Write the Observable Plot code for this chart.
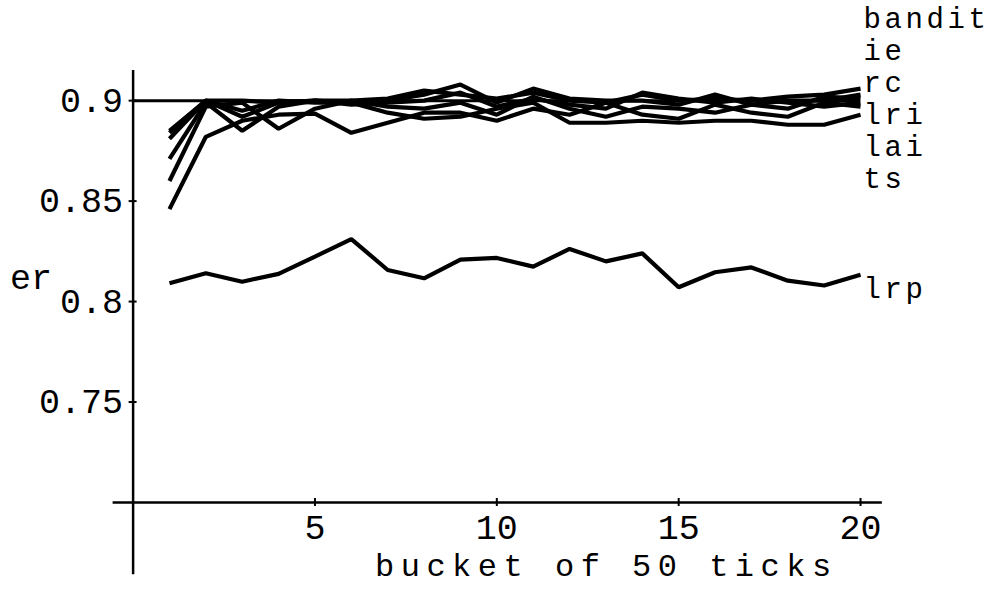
<!DOCTYPE html>
<html>
<head>
<meta charset="utf-8">
<script src="https://cdn.jsdelivr.net/npm/d3@7"></script>
<script src="https://cdn.jsdelivr.net/npm/@observablehq/plot@0.6"></script>
<style>
  html, body { margin: 0; padding: 0; background: #fff; }
</style>
</head>
<body>
<div id="chart"></div>
<script>
// Error rate per bucket of 50 ticks, one series per learning method
const buckets = [1, 2, 3, 4, 5, 6, 7, 8, 9, 10, 11, 12, 13, 14, 15, 16, 17, 18, 19, 20];

const bandit = [0.884, 0.900, 0.900, 0.899, 0.900, 0.900, 0.901, 0.905, 0.903, 0.901, 0.904, 0.900, 0.899, 0.903, 0.900, 0.901, 0.900, 0.902, 0.903, 0.906];
const ie     = [0.881, 0.900, 0.895, 0.900, 0.899, 0.899, 0.900, 0.903, 0.908, 0.899, 0.906, 0.901, 0.900, 0.900, 0.898, 0.903, 0.898, 0.900, 0.900, 0.903];
const rc     = [0.871, 0.899, 0.885, 0.897, 0.900, 0.898, 0.899, 0.900, 0.904, 0.897, 0.901, 0.898, 0.896, 0.904, 0.901, 0.899, 0.901, 0.899, 0.897, 0.899];
const lri    = [0.860, 0.897, 0.899, 0.886, 0.896, 0.900, 0.897, 0.896, 0.899, 0.893, 0.902, 0.896, 0.892, 0.897, 0.896, 0.894, 0.898, 0.896, 0.902, 0.901];
const lai    = [0.846, 0.882, 0.890, 0.893, 0.8935, 0.884, 0.889, 0.894, 0.894, 0.890, 0.896, 0.893, 0.899, 0.893, 0.891, 0.898, 0.894, 0.892, 0.899, 0.897];
const ts     = [0.885, 0.900, 0.892, 0.899, 0.900, 0.899, 0.894, 0.891, 0.892, 0.896, 0.899, 0.889, 0.889, 0.890, 0.889, 0.890, 0.890, 0.888, 0.888, 0.893];
const lrp    = [0.8091, 0.8141, 0.8099, 0.8138, 0.8224, 0.8311, 0.8157, 0.8116, 0.8209, 0.8217, 0.8174, 0.8262, 0.8200, 0.8240, 0.8071, 0.8146, 0.8170, 0.8104, 0.8080, 0.8133];

// Methods clustered near 0.9, listed top to bottom in the key
const upperNames = ["bandit", "ie", "rc", "lri", "lai", "ts"];
const upperSeries = [bandit, ie, rc, lri, lai, ts];

const referenceLevel = 0.9;
const xTicks = [5, 10, 15, 20];
const xTickLabels = ["5", "10", "15", "20"];
const yTicks = [0.75, 0.8, 0.85, 0.9];
const yTickLabels = ["0.75", "0.8", "0.85", "0.9"];
const xLabel = "bucket of 50 ticks";
const yLabel = "er";

// long-format table for the line mark
const rows = [];
upperNames.forEach((name, s) => {
  upperSeries[s].forEach((v, i) => rows.push({method: name, bucket: buckets[i], er: v}));
});
lrp.forEach((v, i) => rows.push({method: "lrp", bucket: buckets[i], er: v}));

const xLo = -0.55, xHi = 20.45;   // visible span of the horizontal axis
const yLo = 0.7, yHi = 0.915;     // frame: horizontal axis sits at 0.7
const yAxisBottom = 0.664;        // vertical axis runs past the crossing

const chart = Plot.plot({
  width: 991,
  height: 594,
  marginLeft: 112.6,
  marginRight: 114.6,
  marginTop: 70,
  marginBottom: 92,
  x: {domain: [xLo, xHi], axis: null},
  y: {domain: [yLo, yHi], axis: null},
  style: {
    background: "#fff",
    color: "#000",
    fontFamily: "'Liberation Mono', 'DejaVu Sans Mono', monospace",
    fontSize: "35px"
  },
  marks: [
    // axes crossing at (0, 0.7)
    Plot.ruleY([yLo], {x1: xLo, x2: 20.6, stroke: "#000", strokeWidth: 2.5}),
    Plot.ruleX([0], {y1: yAxisBottom, y2: yHi, stroke: "#000", strokeWidth: 2.5}),

    // tick crosses on both axes
    Plot.ruleX(xTicks, {x: d => d, y1: yLo, y2: yLo, insetTop: -4, insetBottom: -4, stroke: "#000", strokeWidth: 2}),
    Plot.ruleY(yTicks, {y: d => d, x1: 0, x2: 0, insetLeft: -4, insetRight: -4, stroke: "#000", strokeWidth: 2}),

    // tick labels
    Plot.text(xTicks, {x: d => d, y: yLo, text: (d, i) => xTickLabels[i], dy: 25, fill: "#000"}),
    Plot.text(yTicks, {x: 0, y: d => d, text: (d, i) => yTickLabels[i], dx: -10, textAnchor: "end", fill: "#000"}),

    // axis labels
    Plot.text([xLabel], {frameAnchor: "bottom", dx: -120, dy: 73, textAnchor: "start", fill: "#000", className: "xlabel"}),
    Plot.text([yLabel], {frameAnchor: "left", dx: -103, dy: -9, textAnchor: "start", fill: "#000"}),

    // 0.9 reference level
    Plot.ruleY([referenceLevel], {x1: 0, x2: 20, stroke: "#000", strokeWidth: 3}),

    // series
    Plot.line(rows, {
      x: "bucket", y: "er", z: "method",
      stroke: "#000", strokeWidth: 4.2,
      strokeLinejoin: "miter", strokeLinecap: "butt", curve: "linear"
    }),

    // series names at the right end
    ...upperNames.map((name, i) =>
      Plot.text([name], {x: 20, y: referenceLevel, text: d => d, dx: 3, dy: -82 + i * 32, textAnchor: "start", fill: "#000", className: "key"})
    ),
    Plot.text(["lrp"], {x: 20, y: lrp[lrp.length - 1], text: d => d, dx: 3, dy: 14, textAnchor: "start", fill: "#000", className: "key"})
  ]
});

// sizing and spacing of the monospace labels
d3.select(chart).selectAll("g.xlabel text").style("font-size", "32px").style("letter-spacing", "6.5px");
d3.select(chart).selectAll("g.key text").style("font-size", "29px").style("letter-spacing", "3.6px");

document.getElementById("chart").appendChild(chart);
</script>
</body>
</html>
